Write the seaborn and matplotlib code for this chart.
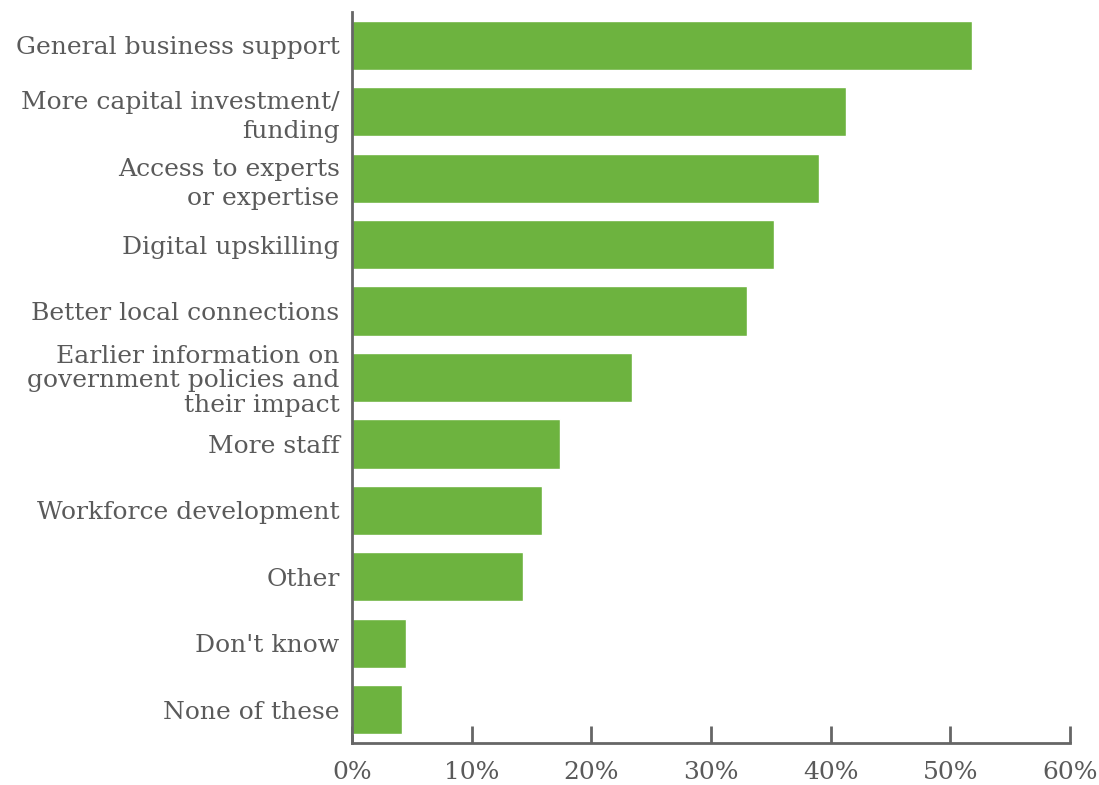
import matplotlib
matplotlib.use("Agg")
import matplotlib.pyplot as plt
import seaborn as sns
import pandas as pd

categories = [
    "General business support",
    "More capital investment/\nfunding",
    "Access to experts\nor expertise",
    "Digital upskilling",
    "Better local connections",
    "Earlier information on\ngovernment policies and\ntheir impact",
    "More staff",
    "Workforce development",
    "Other",
    "Don't know",
    "None of these",
]
shares = [51.8, 41.3, 39.0, 35.3, 33.0, 23.4, 17.4, 15.9, 14.3, 4.5, 4.2]
x_ticks = [0, 10, 20, 30, 40, 50, 60]
x_tick_labels = ["0%", "10%", "20%", "30%", "40%", "50%", "60%"]

BAR_GREEN = "#6db33f"
TEXT_GREY = "#5a5a5a"
AXIS_GREY = "#666666"

sns.set_theme(style="white")
plt.rcParams["font.family"] = ["DejaVu Serif"]

df = pd.DataFrame({"category": categories, "share": shares})

fig = plt.figure(figsize=(10.99, 7.85), dpi=100)
ax = fig.add_axes([0.3203, 0.0535, 0.9736 - 0.3203, 0.9847 - 0.0535])

sns.barplot(data=df, x="share", y="category", color=BAR_GREEN,
            saturation=1, width=0.74, orient="h", ax=ax)

ax.set_xlim(0, 60)
ax.set_ylim(len(categories) - 0.5, -0.5)
ax.set_xticks(x_ticks)
ax.set_xticklabels(x_tick_labels)
ax.set_xlabel("")
ax.set_ylabel("")

for side in ("top", "right"):
    ax.spines[side].set_visible(False)
for side in ("left", "bottom"):
    ax.spines[side].set_color(AXIS_GREY)
    ax.spines[side].set_linewidth(2)

ax.tick_params(axis="x", direction="in", length=12, width=2, color=AXIS_GREY,
               labelsize=18, labelcolor=TEXT_GREY, pad=13, bottom=True)
ax.tick_params(axis="y", length=0, labelsize=18, labelcolor=TEXT_GREY, pad=9)
for lbl in ax.get_yticklabels():
    lbl.set_horizontalalignment("right")
    n_lines = lbl.get_text().count("\n") + 1
    lbl.set_linespacing(1.1 if n_lines > 2 else 1.35)

fig.savefig("out.png", dpi=100)
